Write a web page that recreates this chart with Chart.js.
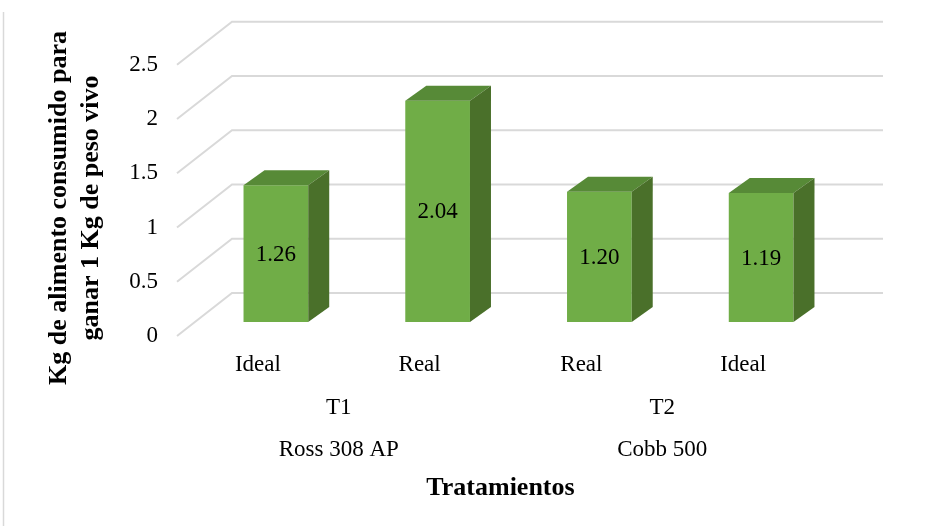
<!DOCTYPE html>
<html lang="es">
<head>
<meta charset="UTF-8">
<title>Tratamientos</title>
<style>
    body {
        margin: 0;
        background: #ffffff;
    }
    #wrap {
        position: relative;
        width: 943px;
        height: 526px;
    }
</style>
</head>
<body>
<div id="wrap">
    <canvas id="chart" width="943" height="526"></canvas>
</div>

<script src="https://cdn.jsdelivr.net/npm/chart.js"></script>
<script>
    // datos
    const condiciones = ['Ideal', 'Real', 'Real', 'Ideal'];
    const tratamientos = ['T1', 'T2'];
    const lineas = ['Ross 308 AP', 'Cobb 500'];
    const conversion = [1.26, 2.04, 1.20, 1.19];
    const ticksY = [0, 0.5, 1, 1.5, 2, 2.5];

    const tituloY = ['Kg de alimento consumido para', 'ganar 1 Kg de peso vivo'];
    const tituloX = 'Tratamientos';

    const FUENTE = '"Liberation Serif", "Times New Roman", serif';

    // desplazamientos de la falsa perspectiva 3D
    const FRENTE = { dx: -18, dy: 14 };   // borde delantero del piso
    const FONDO = { dx: 37, dy: -29 };    // pared del fondo
    const PROF = { dx: 21, dy: -15 };     // profundidad de cada barra

    // rejilla: diagonal en el piso + línea horizontal en la pared
    const rejilla3D = {
        id: 'rejilla3D',
        beforeDatasetsDraw(chart) {
            const { ctx, chartArea, scales } = chart;
            const y = scales.y;
            ctx.save();
            ctx.strokeStyle = '#d9d9d9';
            ctx.lineWidth = 2;
            ticksY.forEach(v => {
                const p = y.getPixelForValue(v);
                ctx.beginPath();
                ctx.moveTo(chartArea.left + FRENTE.dx, p + FRENTE.dy);
                ctx.lineTo(chartArea.left + FONDO.dx, p + FONDO.dy);
                ctx.lineTo(chartArea.right + FONDO.dx + 4, p + FONDO.dy);
                ctx.stroke();
            });
            // borde izquierdo del marco
            ctx.lineWidth = 1.5;
            ctx.beginPath();
            ctx.moveTo(3.5, 12);
            ctx.lineTo(3.5, 526);
            ctx.stroke();
            ctx.restore();
        }
    };

    // caras superior y lateral de las barras + etiquetas de datos
    const barras3D = {
        id: 'barras3D',
        afterDatasetsDraw(chart) {
            const { ctx } = chart;
            const meta = chart.getDatasetMeta(0);
            ctx.save();
            meta.data.forEach((bar, i) => {
                const p = bar.getProps(['x', 'y', 'base', 'width'], true);
                const l = p.x - p.width / 2;
                const r = p.x + p.width / 2;
                // cara superior
                ctx.fillStyle = '#578a37';
                ctx.beginPath();
                ctx.moveTo(l, p.y);
                ctx.lineTo(r, p.y);
                ctx.lineTo(r + PROF.dx, p.y + PROF.dy);
                ctx.lineTo(l + PROF.dx, p.y + PROF.dy);
                ctx.closePath();
                ctx.fill();
                // cara lateral
                ctx.fillStyle = '#4a702a';
                ctx.beginPath();
                ctx.moveTo(r, p.y);
                ctx.lineTo(r + PROF.dx, p.y + PROF.dy);
                ctx.lineTo(r + PROF.dx, p.base + PROF.dy);
                ctx.lineTo(r, p.base);
                ctx.closePath();
                ctx.fill();
                // valor
                ctx.fillStyle = '#000';
                ctx.font = '23px ' + FUENTE;
                ctx.textAlign = 'center';
                ctx.textBaseline = 'middle';
                ctx.fillText(conversion[i].toFixed(2), p.x, (p.y + p.base) / 2 + 1);
            });
            ctx.restore();
        }
    };

    // etiquetas agrupadas del eje X y títulos
    const textos = {
        id: 'textos',
        afterDraw(chart) {
            const { ctx, chartArea, scales } = chart;
            const x = scales.x;
            ctx.save();
            ctx.fillStyle = '#000';
            ctx.textAlign = 'center';
            ctx.textBaseline = 'middle';
            ctx.font = '23px ' + FUENTE;
            tratamientos.forEach((t, g) => {
                const cx = (x.getPixelForValue(g * 2) + x.getPixelForValue(g * 2 + 1)) / 2 + FRENTE.dx;
                ctx.fillText(t, cx, 408);
                ctx.fillText(lineas[g], cx, 450);
            });
            ctx.font = 'bold 26px ' + FUENTE;
            const centro = (chartArea.left + chartArea.right) / 2 + FRENTE.dx;
            ctx.fillText(tituloX, centro, 488);

            ctx.translate(75, 208);
            ctx.rotate(-Math.PI / 2);
            ctx.fillText(tituloY[0], 0, -16);
            ctx.fillText(tituloY[1], 0, 16);
            ctx.restore();
        }
    };

    Chart.defaults.font.family = FUENTE;
    Chart.defaults.font.size = 23;
    Chart.defaults.color = '#000';

    const ctx = document.getElementById('chart').getContext('2d');
    new Chart(ctx, {
        type: 'bar',
        data: {
            labels: condiciones,
            datasets: [{
                data: conversion,
                backgroundColor: '#70ad47',
                borderWidth: 0,
                barPercentage: 0.4,
                categoryPercentage: 1
            }]
        },
        options: {
            responsive: false,
            animation: false,
            layout: {
                padding: { left: 0, right: 101, top: 45, bottom: 0 }
            },
            plugins: {
                legend: { display: false },
                tooltip: { enabled: false }
            },
            scales: {
                x: {
                    grid: { display: false, drawTicks: false },
                    border: { display: false },
                    ticks: { padding: 29, labelOffset: FRENTE.dx, maxRotation: 0 },
                    afterFit(scale) { scale.height = 204; }
                },
                y: {
                    min: 0,
                    max: 2.5,
                    grid: { display: false, drawTicks: false },
                    border: { display: false },
                    ticks: {
                        stepSize: 0.5,
                        padding: 37,
                        labelOffset: FRENTE.dy,
                        callback: v => String(v)
                    },
                    afterFit(scale) { scale.width = 195; }
                }
            }
        },
        plugins: [rejilla3D, barras3D, textos]
    });
</script>
</body>
</html>
